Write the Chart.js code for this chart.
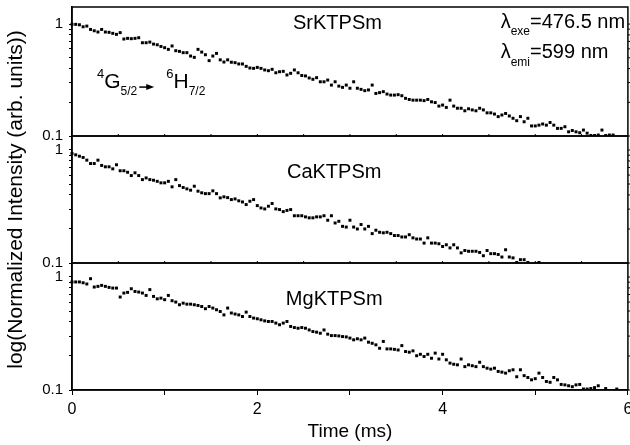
<!DOCTYPE html>
<html>
<head>
<meta charset="utf-8">
<script src="https://cdn.jsdelivr.net/npm/chart.js@4/dist/chart.umd.min.js"></script>
<style>
  html, body { margin: 0; background: #fff; }
  #wrap { width: 630px; height: 445px; }
</style>
</head>
<body>
<div id="wrap"><canvas id="c" width="630" height="445"></canvas></div>
<script>
// Luminescence decay curves, three stacked log panels sharing one time axis.
const FONT = "'Liberation Sans', Arial, Helvetica, sans-serif";

const times = [
  0,0.04,0.08,0.12,0.16,0.2,0.24,0.28,0.32,0.36,
  0.4,0.44,0.48,0.52,0.56,0.6,0.64,0.68,0.72,0.76,
  0.8,0.84,0.88,0.92,0.96,1,1.04,1.08,1.12,1.16,
  1.2,1.24,1.28,1.32,1.36,1.4,1.44,1.48,1.52,1.56,
  1.6,1.64,1.68,1.72,1.76,1.8,1.84,1.88,1.92,1.96,
  2,2.04,2.08,2.12,2.16,2.2,2.24,2.28,2.32,2.36,
  2.4,2.44,2.48,2.52,2.56,2.6,2.64,2.68,2.72,2.76,
  2.8,2.84,2.88,2.92,2.96,3,3.04,3.08,3.12,3.16,
  3.2,3.24,3.28,3.32,3.36,3.4,3.44,3.48,3.52,3.56,
  3.6,3.64,3.68,3.72,3.76,3.8,3.84,3.88,3.92,3.96,
  4,4.04,4.08,4.12,4.16,4.2,4.24,4.28,4.32,4.36,
  4.4,4.44,4.48,4.52,4.56,4.6,4.64,4.68,4.72,4.76,
  4.8,4.84,4.88,4.92,4.96,5,5.04,5.08,5.12,5.16,
  5.2,5.24,5.28,5.32,5.36,5.4,5.44,5.48,5.52,5.56,
  5.6,5.64,5.68,5.72,5.76,5.8,5.84,5.88
];

const srData = [
  .995,.993,.985,.946,.959,.895,.871,.849,.895,.849,
  .843,.826,.809,.838,.735,.745,.740,.745,.755,.681,
  .681,.690,.662,.653,.631,.615,.594,.637,.578,.570,
  .555,.555,.518,.504,.594,.562,.532,.471,.518,.547,
  .479,.458,.479,.456,.452,.440,.440,.419,.405,.402,
  .410,.402,.389,.383,.394,.367,.375,.378,.351,.363,
  .389,.367,.347,.344,.330,.321,.332,.305,.305,.316,
  .285,.305,.279,.272,.285,.267,.305,.267,.261,.254,
  .258,.285,.240,.244,.249,.237,.232,.232,.234,.229,
  .217,.212,.209,.209,.209,.207,.212,.202,.199,.185,
  .189,.180,.209,.185,.177,.177,.168,.175,.171,.168,
  .177,.171,.161,.161,.157,.149,.154,.159,.151,.144,
  .137,.149,.134,.144,.123,.123,.125,.128,.125,.132,
  .125,.117,.117,.121,.109,.112,.109,.107,.113,.106,
  .101,.101,.102,.113,.101,.102,.102,.095
];

const caData = [
  .931,.906,.881,.859,.813,.759,.759,.813,.730,.710,
  .710,.681,.740,.655,.655,.635,.594,.628,.594,.547,
  .566,.547,.540,.528,.512,.512,.528,.472,.547,.484,
  .466,.453,.441,.478,.432,.418,.411,.411,.435,.411,
  .377,.385,.379,.364,.369,.355,.347,.329,.352,.364,
  .322,.307,.301,.318,.336,.301,.297,.285,.292,.297,
  .262,.262,.262,.256,.251,.251,.256,.256,.262,.239,
  .262,.226,.234,.211,.208,.239,.208,.200,.219,.200,
  .211,.182,.195,.187,.185,.187,.182,.175,.175,.170,
  .170,.178,.167,.163,.163,.150,.167,.150,.150,.148,
  .140,.145,.136,.145,.136,.123,.129,.127,.127,.127,
  .124,.116,.129,.121,.121,.119,.113,.131,.113,.111,
  .101,.107,.107,.101,.095,.098,.101
];

const mgData = [
  .904,.904,.904,.889,.867,.966,.815,.826,.843,.826,
  .809,.798,.798,.665,.721,.731,.787,.745,.736,.721,
  .687,.773,.673,.641,.650,.630,.687,.617,.600,.568,
  .587,.575,.575,.568,.560,.548,.524,.548,.531,.513,
  .495,.462,.531,.480,.470,.462,.447,.489,.447,.433,
  .427,.418,.409,.404,.404,.391,.378,.391,.404,.365,
  .357,.352,.357,.352,.340,.329,.325,.318,.340,.312,
  .303,.303,.301,.297,.295,.288,.278,.284,.278,.288,
  .265,.259,.251,.234,.269,.231,.231,.229,.226,.247,
  .219,.216,.222,.201,.207,.198,.207,.191,.212,.188,
  .207,.185,.173,.169,.167,.188,.161,.167,.164,.161,
  .176,.161,.156,.153,.156,.146,.144,.141,.148,.151,
  .131,.151,.134,.129,.123,.126,.141,.129,.119,.117,
  .129,.123,.112,.111,.109,.107,.111,.112,.102,.102,
  .103,.105,.109,.095,.103,.095,.095,.102
];

const panelIds   = ["ySr", "yCa", "yMg"];
const panelNames = ["SrKTPSm", "CaKTPSm", "MgKTPSm"];
const xTickLabels = [0, 2, 4, 6];
const yTicks      = [0.1, 0.2, 0.3, 0.4, 0.5, 0.6, 0.7, 0.8, 0.9, 1];
const yLabeled    = [0.1, 1];
const innerXTicks = [0.5, 1, 1.5, 2, 2.5, 3, 3.5, 4, 4.5, 5, 5.5];

function pts(vals) {
  return vals.map((v, i) => ({ x: times[i], y: v }));
}

function yAxis(weight, max, withTitle) {
  return {
    type: "logarithmic", position: "left", stack: "panels", stackWeight: weight,
    min: 0.1, max: max,
    border: { display: true, color: "#000", width: 1.5 },
    grid: { drawOnChartArea: false, drawTicks: true, tickLength: 3, color: "#000", lineWidth: 1 },
    ticks: {
      autoSkip: false, color: "#000", padding: 6,
      font: { family: FONT, size: 15 },
      callback: v => yLabeled.includes(v) ? String(v) : ""
    },
    afterBuildTicks: s => { s.ticks = yTicks.map(v => ({ value: v })); },
    afterFit: s => { s.width = 72; s.paddingTop = 0; s.paddingBottom = 0; },
    title: withTitle ? {
      display: true, text: "log(Normalized Intensity (arb. units))", color: "#000",
      font: { family: FONT, size: 21 }, padding: { top: 4, bottom: 0 }
    } : { display: false }
  };
}

// text with sub/superscripts: parts = [[text, size, dy], ...]
function richWidth(ctx, parts) {
  let w = 0;
  parts.forEach(p => { ctx.font = p[1] + "px " + FONT; w += ctx.measureText(p[0]).width; });
  return w;
}
function drawRich(ctx, x, y, parts) {
  parts.forEach(p => {
    ctx.font = p[1] + "px " + FONT;
    ctx.fillText(p[0], x, y + p[2]);
    x += ctx.measureText(p[0]).width;
  });
  return x;
}

const frame = {
  id: "frame",
  afterDraw(chart) {
    const { ctx, chartArea: a, scales } = chart;
    const xs = scales.x;
    ctx.save();
    ctx.strokeStyle = "#000";
    ctx.fillStyle = "#000";
    ctx.lineWidth = 1.5;
    panelIds.forEach((id, k) => {
      const s = scales[id];
      ctx.strokeRect(a.left, s.top, a.right - a.left, s.bottom - s.top);
      ctx.lineWidth = 1;
      ctx.beginPath();
      yTicks.forEach(v => {
        const y = s.getPixelForValue(v);
        ctx.moveTo(a.right, y); ctx.lineTo(a.right + 3, y);
      });
      if (k < 2) {
        innerXTicks.forEach(t => {
          const x = xs.getPixelForValue(t);
          ctx.moveTo(x, s.bottom); ctx.lineTo(x, s.bottom - 2);
        });
      }
      ctx.stroke();
      ctx.lineWidth = 1.5;
    });

    ctx.textBaseline = "alphabetic";
    ctx.textAlign = "left";
    // sample names
    const nameSpots = [[2.865, 0.902], [2.83, 0.570], [2.83, 0.568]];
    panelIds.forEach((id, k) => {
      const parts = [[panelNames[k], 20, 0]];
      const w = richWidth(ctx, parts);
      const x = xs.getPixelForValue(nameSpots[k][0]) - w / 2;
      drawRich(ctx, x, scales[id].getPixelForValue(nameSpots[k][1]), parts);
    });

    // excitation / emission wavelengths
    const lx = xs.getPixelForValue(4.627);
    drawRich(ctx, lx, scales.ySr.getPixelForValue(0.921),
      [["\u03bb", 20, 0], ["exe", 12, 7], ["=476.5 nm", 20, 0]]);
    drawRich(ctx, lx, scales.ySr.getPixelForValue(0.497),
      [["\u03bb", 20, 0], ["emi", 12, 8], ["=599 nm", 20, 0]]);

    // transition label with arrow
    const ty = scales.ySr.getPixelForValue(0.268);
    let x = drawRich(ctx, xs.getPixelForValue(0.27), ty,
      [["4", 13, -10], ["G", 21, 0], ["5/2", 12, 7]]);
    const ax0 = x + 2, ax1 = x + 17, ay = ty - 1;
    ctx.lineWidth = 1.5;
    ctx.beginPath(); ctx.moveTo(ax0, ay); ctx.lineTo(ax1 - 6, ay); ctx.stroke();
    ctx.beginPath(); ctx.moveTo(ax1, ay); ctx.lineTo(ax1 - 8, ay - 3); ctx.lineTo(ax1 - 8, ay + 3);
    ctx.closePath(); ctx.fill();
    drawRich(ctx, ax1 + 12, ty, [["6", 13, -10], ["H", 21, 0], ["7/2", 12, 7]]);
    ctx.restore();
  }
};

function ds(vals, axis) {
  return {
    data: pts(vals), yAxisID: axis,
    pointStyle: "rect", pointRadius: 2.1, pointHoverRadius: 2.1,
    backgroundColor: "#000", borderWidth: 0, showLine: false,
    clip: { left: 3, top: 0, right: 0, bottom: 0 }
  };
}

new Chart(document.getElementById("c"), {
  type: "scatter",
  data: { datasets: [ds(srData, "ySr"), ds(caData, "yCa"), ds(mgData, "yMg")] },
  options: {
    responsive: false, animation: false, devicePixelRatio: 1,
    layout: { padding: { top: 7, right: 2, left: 0, bottom: 0 } },
    plugins: { legend: { display: false }, tooltip: { enabled: false } },
    scales: {
      x: {
        type: "linear", min: 0, max: 6, position: "bottom",
        border: { display: true, color: "#000", width: 1.5 },
        grid: { drawOnChartArea: false, tickLength: 5, color: "#000" },
        ticks: {
          stepSize: 1, autoSkip: false, maxRotation: 0, padding: 5, color: "#000",
          font: { family: FONT, size: 16 },
          callback: v => xTickLabels.includes(v) ? String(v) : ""
        },
        title: { display: true, text: "Time (ms)", color: "#000",
                 font: { family: FONT, size: 19 }, padding: { top: 0, bottom: 2 } },
        afterFit: s => { s.height = 55; s.paddingLeft = 0; s.paddingRight = 0; }
      },
      yMg: yAxis(127, 1.33, false),
      yCa: yAxis(127, 1.33, true),
      ySr: yAxis(129, 1.42, false)
    }
  },
  plugins: [frame]
});
</script>
</body>
</html>
